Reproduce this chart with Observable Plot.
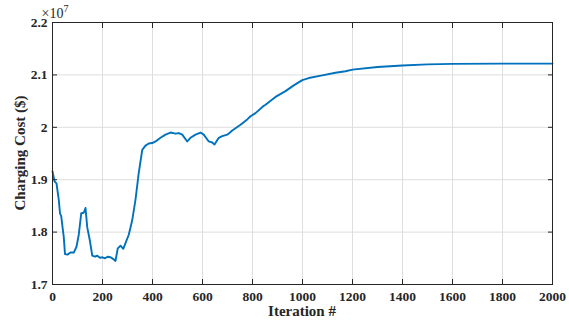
<!DOCTYPE html>
<html><head><meta charset="utf-8">
<script src="https://cdn.jsdelivr.net/npm/d3@7"></script>
<script src="https://cdn.jsdelivr.net/npm/@observablehq/plot@0.6"></script>
<style>body{margin:0;background:#fff} svg{display:block}</style>
</head><body><div id="chart"></div>
<script>
const iterations = [0,8,16,25,30,35,40,45,50,60,72,85,96,105,115,125,132,139,149,159,170,179,190,200,210,220,232,242,252,261,272,283,292,305,319,332,345,359,372,385,399,412,432,452,472,492,505,519,539,552,572,592,605,625,639,648,665,679,699,705,719,752,779,792,812,845,852,879,892,932,965,999,1025,1079,1132,1172,1200,1300,1400,1500,1600,1800,2000];
const cost = [1.916,1.897,1.893,1.862,1.836,1.830,1.810,1.791,1.758,1.757,1.761,1.761,1.772,1.795,1.836,1.837,1.846,1.809,1.785,1.755,1.753,1.755,1.751,1.752,1.750,1.753,1.752,1.749,1.745,1.769,1.774,1.768,1.779,1.795,1.823,1.862,1.913,1.957,1.965,1.969,1.970,1.973,1.980,1.986,1.990,1.988,1.989,1.986,1.973,1.980,1.986,1.990,1.986,1.973,1.971,1.967,1.980,1.983,1.986,1.988,1.994,2.005,2.015,2.021,2.027,2.041,2.043,2.053,2.058,2.069,2.080,2.090,2.094,2.099,2.104,2.107,2.110,2.115,2.118,2.120,2.121,2.1215,2.1216];
const xTicks = [0,200,400,600,800,1000,1200,1400,1600,1800,2000];
const yTicks = [1.7,1.8,1.9,2,2.1,2.2];
const xLabel = "Iteration #";
const yLabel = "Charging Cost ($)";
const exponent = "7";

const data = iterations.map((x, i) => ({x, y: cost[i]}));
const font = "'Liberation Serif', 'Times New Roman', serif";
const axisColor = "#262626";
const fmtY = d => String(+d.toFixed(1));

const chart = Plot.plot({
  width: 569, height: 320,
  marginLeft: 52, marginRight: 17, marginTop: 22, marginBottom: 36,
  style: {fontFamily: font, fontSize: "13.5px", fontWeight: "bold", color: axisColor, background: "white"},
  x: {domain: [0, 2000]},
  y: {domain: [1.7, 2.2]},
  marks: [
    Plot.gridX(xTicks, {stroke: "#dedede", strokeOpacity: 1}),
    Plot.gridY(yTicks, {stroke: "#dedede", strokeOpacity: 1}),
    Plot.line(data, {x: "x", y: "y", stroke: "#0072BD", strokeWidth: 1.9}),
    Plot.frame({stroke: axisColor}),
    Plot.axisX(xTicks, {anchor: "bottom", tickSize: -5, tickPadding: 12, tickFormat: d => String(d), label: null, stroke: axisColor}),
    Plot.axisX(xTicks, {anchor: "top", tickSize: -5, tickFormat: () => "", label: null, stroke: axisColor}),
    Plot.axisY(yTicks, {anchor: "left", tickSize: -5, tickPadding: 10, tickFormat: fmtY, label: null, stroke: axisColor}),
    Plot.axisY(yTicks, {anchor: "right", tickSize: -5, tickFormat: () => "", label: null, stroke: axisColor})
  ]
});

const svg = d3.select(chart);
svg.selectAll("text").filter(function() { return this.textContent.trim() === ""; }).remove();

const mult = svg.append("text")
  .attr("x", 55).attr("y", 18)
  .attr("font-family", font).attr("font-size", 14).attr("font-weight", "normal")
  .attr("fill", axisColor);
mult.append("tspan").text("×10");
mult.append("tspan").attr("dy", -6).attr("font-size", 10).text(exponent);

svg.append("text")
  .attr("x", 302).attr("y", 316)
  .attr("text-anchor", "middle")
  .attr("font-family", font).attr("font-size", 15).attr("font-weight", "bold")
  .attr("fill", axisColor)
  .text(xLabel);

svg.append("text")
  .attr("transform", "translate(25,153) rotate(-90)")
  .attr("text-anchor", "middle")
  .attr("font-family", font).attr("font-size", 15).attr("font-weight", "bold")
  .attr("fill", axisColor)
  .text(yLabel);

document.getElementById("chart").appendChild(chart);
</script>
</body></html>
